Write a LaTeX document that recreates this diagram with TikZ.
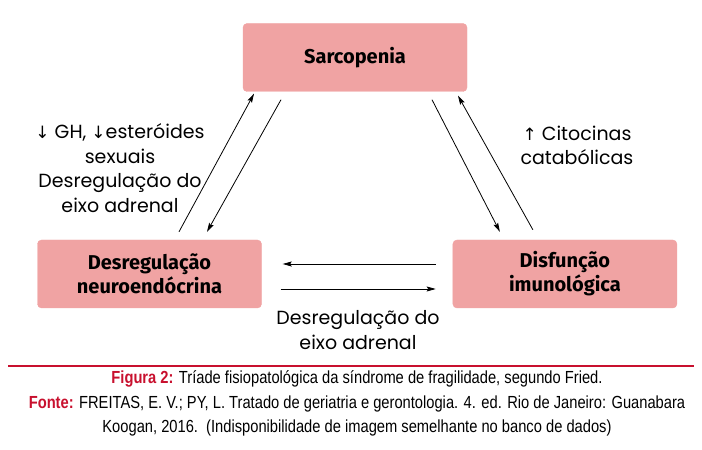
\documentclass[tikz,border=0pt]{standalone}
\usepackage{fontspec}
\usepackage{xcolor}
\setmainfont{Poppins}
\newfontfamily\boxfont{Fira Sans}
\newfontfamily\capfont[FakeStretch=0.84]{Liberation Sans}
\newfontfamily\arrowfont{DejaVu Sans}
\usetikzlibrary{arrows.meta,positioning}
\definecolor{blush}{HTML}{F0A3A3}
\definecolor{crimson}{HTML}{C8102E}
\tikzset{
  factorbox/.style={
    rectangle, rounded corners=4pt, fill=blush, draw=blush,
    minimum width=224pt, minimum height=68pt,
    font=\boxfont\bfseries\fontsize{20}{24}\selectfont, align=center,
    inner sep=4pt
  },
  linkarrow/.style={
    -{Stealth[length=9pt, width=5pt, inset=1.5pt]}, line width=0.8pt, color=#1
  },
  linkarrow/.default=black,
  notelabel/.style={
    font=\fontsize{19}{24.5}\selectfont, align=center, inner sep=0pt
  },
  captext/.style={
    font=\capfont\fontsize{17.5}{24.5}\selectfont, align=center, inner sep=0pt
  },
}
\newcommand{\dn}{{\arrowfont\fontsize{17}{17}\selectfont ↓}}
\newcommand{\up}{{\arrowfont\fontsize{17}{17}\selectfont ↑}}

\begin{document}
\begin{tikzpicture}[x=1pt, y=1pt]
  \useasboundingbox (0,0) rectangle (702,450);
  % Triad boxes
  \node[factorbox] (sarc) at (355,392.5) {Sarcopenia};
  \node[factorbox] (neuro) at (149.5,176) {Desregulação\\neuroendócrina};
  \node[factorbox, right=191pt of neuro] (imuno) {Disfunção\\imunológica};
  % Left side
  \draw[linkarrow] ([shift={(29.5pt,8pt)}]neuro.north) -- ([shift={(-101pt,-2pt)}]sarc.south);
  \draw[linkarrow] ([shift={(-74pt,-8pt)}]sarc.south) -- ([shift={(57.5pt,8pt)}]neuro.north);
  \node[notelabel] (leftnote) at (120,282)
    {\dn\ GH, \dn esteróides\\sexuais\\Desregulação do\\eixo adrenal};
  % Right side
  \draw[linkarrow] ([shift={(77pt,-8pt)}]sarc.south) -- ([shift={(-65pt,8pt)}]imuno.north);
  \draw[linkarrow] ([shift={(-32pt,10pt)}]imuno.north) -- ([shift={(103pt,-4pt)}]sarc.south);
  \node[notelabel] (rightnote) at (577,304.5) {\up\ Citocinas\\catabólicas};
  % Bottom
  \draw[linkarrow] ([shift={(-17pt,10pt)}]imuno.west) -- ([shift={(21pt,10pt)}]neuro.east);
  \draw[linkarrow] ([shift={(19pt,-15pt)}]neuro.east) -- ([shift={(-17pt,-15pt)}]imuno.west);
  \node[notelabel] (bottomnote) at (358,120) {Desregulação do\\eixo adrenal};
  % Caption
  \coordinate (rulel) at (8,84);
  \coordinate (ruler) at (694,84);
  \draw[crimson, line width=1.2pt] (rulel) -- (ruler);
  \node[captext] (caption) at (357,46.5)
    {\textcolor{crimson}{\bfseries Figura 2:} Tríade fisiopatológica da síndrome de fragilidade, segundo Fried.\\
     \textcolor{crimson}{\bfseries Fonte:} FREITAS, E. V.; PY, L. Tratado de geriatria e gerontologia. 4. ed. Rio de Janeiro: Guanabara\\
     Koogan, 2016.\ \ (Indisponibilidade de imagem semelhante no banco de dados)};
\end{tikzpicture}
\end{document}
